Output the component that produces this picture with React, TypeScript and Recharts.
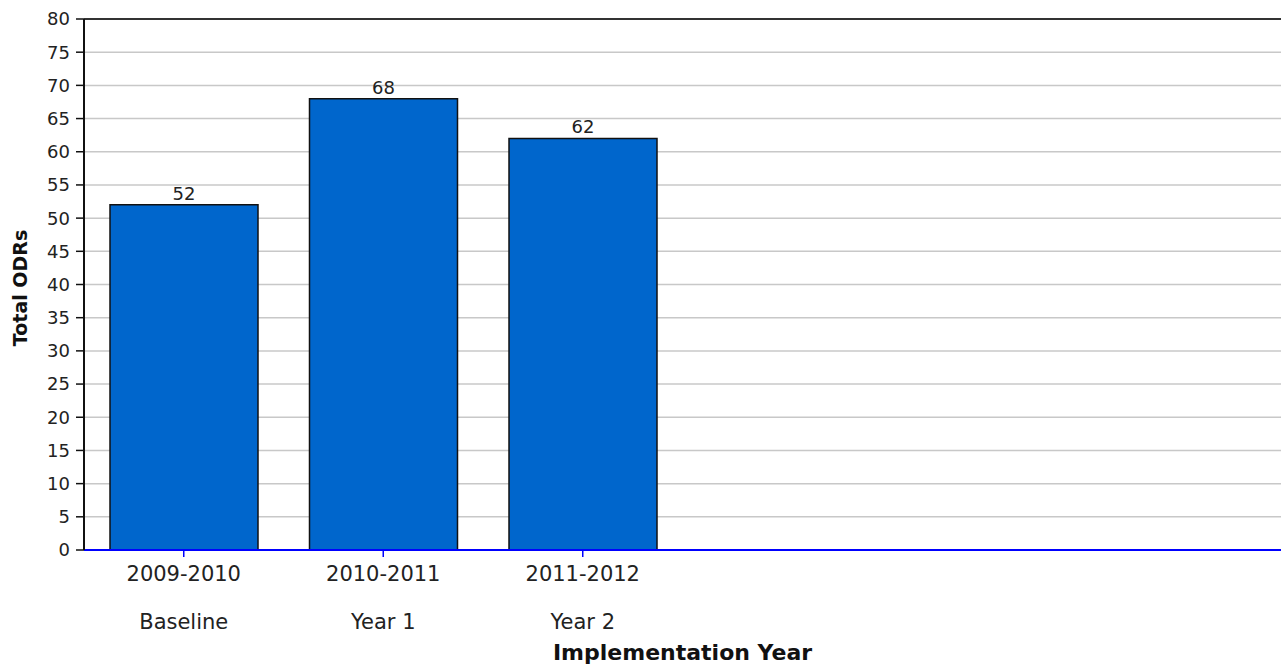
import React from 'react'
import { Bar, BarChart, CartesianGrid, LabelList, ReferenceLine, XAxis, YAxis } from 'recharts';

const years = ['2009-2010', '2010-2011', '2011-2012', '', '', ''];
const phases = ['Baseline', 'Year 1', 'Year 2', '', '', ''];
const odrs = [52, 68, 62, null, null, null];
const yTicks = [0, 5, 10, 15, 20, 25, 30, 35, 40, 45, 50, 55, 60, 65, 70, 75, 80];

const FONT = '"DejaVu Sans", Verdana, sans-serif';

const rows = years.map((y, i) => ({ slot: 's' + i, year: y, phase: phases[i], odrs: odrs[i] }));

const XTick = (props: any) => {
  const { x, y, index } = props;
  const i = props.payload?.index ?? index;
  if (!years[i]) return null;
  return (
    <g>
      <line x1={x} x2={x} y1={y - 7} y2={y} stroke="#0000ff" strokeWidth={1.5} />
      <text x={x} y={y + 24} textAnchor="middle" fontFamily={FONT} fontSize={21} fill="#222">{years[i]}</text>
      <text x={x} y={y + 72} textAnchor="middle" fontFamily={FONT} fontSize={21} fill="#222">{phases[i]}</text>
    </g>
  );
}

const App = () => {
  return (
    <div style={{ position: 'absolute', left: 0, top: 0 }}>
      <BarChart width={1281} height={665} data={rows} margin={{ top: 19, right: 0, left: 0, bottom: 0 }}>
        <CartesianGrid vertical={false} stroke="#c8c8c8" strokeWidth={1.5} />
        <ReferenceLine y={80} stroke="#333" strokeWidth={2} />
        <XAxis
          dataKey="slot"
          height={115}
          tickSize={7}
          tickMargin={0}
          tickLine={false}
          axisLine={{ stroke: '#0000ff', strokeWidth: 2 }}
          tick={<XTick />}
          interval={0}
          label={{
            content: (p: any) => {
              const vb = p.viewBox;
              return (
                <text x={vb.x + vb.width / 2} y={660} textAnchor="middle" fontFamily={FONT} fontWeight="bold" fontSize={22} fill="#111">
                  Implementation Year
                </text>
              );
            },
          }}
        />
        <YAxis
          width={84}
          domain={[0, 80]}
          ticks={yTicks}
          interval={0}
          tickSize={8}
          tickMargin={6}
          tickLine={{ stroke: '#111', strokeWidth: 1.5 }}
          axisLine={{ stroke: '#111', strokeWidth: 2 }}
          tick={{ fontFamily: FONT, fontSize: 18, fill: '#222' }}
          label={{
            content: () => (
              <text x={0} y={0} transform="translate(27,288) rotate(-90)" textAnchor="middle" fontFamily={FONT} fontWeight="bold" fontSize={19} fill="#111">
                Total ODRs
              </text>
            ),
          }}
        />
        <Bar dataKey="odrs" fill="#0066cc" stroke="#111" strokeWidth={1.5} barSize={148} isAnimationActive={false}>
          <LabelList dataKey="odrs" position="top" offset={5} fontFamily={FONT} fontSize={18} fill="#222" />
        </Bar>
      </BarChart>
    </div>
  );
}

export default App
